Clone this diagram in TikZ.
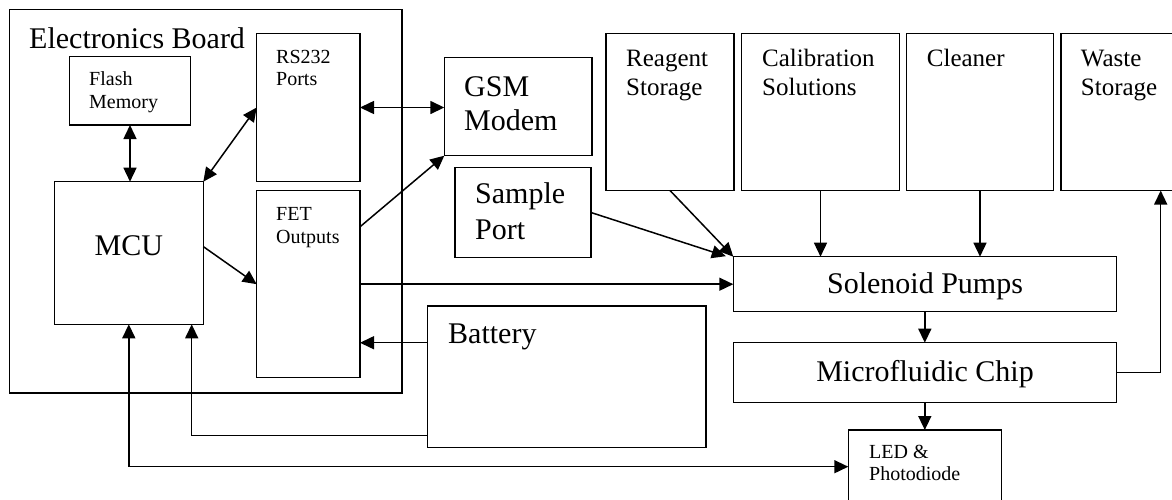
\documentclass[tikz,border=0pt]{standalone}
\usepackage{fontspec}
\setmainfont{Liberation Serif}
\usetikzlibrary{arrows.meta,calc}
\begin{document}
\begin{tikzpicture}[x=1pt,y=-1pt,
 box/.style={draw, line width=1.5pt, inner sep=0pt, outer sep=0pt, rectangle},
 big/.style={font=\fontsize{30}{34}\selectfont, inner sep=0pt},
 mid/.style={font=\fontsize{25}{29}\selectfont, inner sep=0pt},
 sml/.style={font=\fontsize{20}{23}\selectfont, inner sep=0pt},
 lbl/.style={anchor=base west},
 conn/.style={line width=1.5pt},
 arr/.style={conn, -{Triangle[length=14pt,width=13pt]}},
 darr/.style={conn, {Triangle[length=14pt,width=13pt]}-{Triangle[length=14pt,width=13pt]}},
]
\useasboundingbox (0,0) rectangle (1172,499);
\clip (0,0) rectangle (1172,499);

% boxes
\node[box, minimum width=392.5pt, minimum height=383.5pt] (board) at (205.75,201.25) {};
\node[box, minimum width=121.4pt, minimum height=68.3pt] (flash) at (130,90.85) {};
\node[box, minimum width=103.3pt, minimum height=148.4pt] (rs) at (308.35,107.5) {};
\node[box, minimum width=103.3pt, minimum height=187pt] (fet) at (308.35,284.2) {};
\node[box, minimum width=149pt, minimum height=142.6pt] (mcu) at (128.8,253) {};
\node[box, minimum width=147.7pt, minimum height=98pt] (gsm) at (518.15,106.7) {};
\node[box, minimum width=136pt, minimum height=90.4pt] (sample) at (523,212.5) {};
\node[box, minimum width=278.3pt, minimum height=141.3pt] (bat) at (566.85,376.65) {};
\node[box, minimum width=128pt, minimum height=157.2pt] (reag) at (670,111.9) {};
\node[box, minimum width=157.6pt, minimum height=157.2pt] (calib) at (820.5,111.9) {};
\node[box, minimum width=146.6pt, minimum height=157.2pt] (clean) at (980,111.9) {};
\node[box, minimum width=139pt, minimum height=157.2pt] (waste) at (1130.5,111.9) {};
\node[box, minimum width=383pt, minimum height=55pt] (sol) at (924.8,284.2) {};
\node[box, minimum width=383pt, minimum height=59.6pt] (micro) at (924.8,372.5) {};
\node[box, minimum width=153.4pt, minimum height=100pt] (led) at (925,480) {};

% texts
\node[big, lbl] (tBoard) at (29,48) {Electronics Board};
\node[sml, lbl] (tFlash1) at (89,85) {Flash};
\node[sml, lbl] (tFlash2) at (89,108) {Memory};
\node[sml, lbl] (tRs1) at (276,63) {RS232};
\node[sml, lbl] (tRs2) at (276,85) {Ports};
\node[sml, lbl] (tFet1) at (276,220) {FET};
\node[sml, lbl] (tFet2) at (276,243) {Outputs};
\node[big, anchor=base] (tMcu) at (128.8,255) {MCU};
\node[big, lbl] (tGsm1) at (464,96.7) {GSM};
\node[big, lbl] (tGsm2) at (464,130) {Modem};
\node[big, lbl] (tSam1) at (475,203) {Sample};
\node[big, lbl] (tSam2) at (475,239) {Port};
\node[mid, lbl] (tReag1) at (626,66.7) {Reagent};
\node[mid, lbl] (tReag2) at (626,95) {Storage};
\node[mid, lbl] (tCal1) at (762,66.7) {Calibration};
\node[mid, lbl] (tCal2) at (762,95) {Solutions};
\node[mid, lbl] (tCln) at (926.7,66.7) {Cleaner};
\node[mid, lbl] (tWas1) at (1080.7,66.7) {Waste};
\node[mid, lbl] (tWas2) at (1080.7,95) {Storage};
\node[big, lbl] (tBat) at (448,343) {Battery};
\node[big, anchor=base] (tSol) at (925,293.3) {Solenoid Pumps};
\node[big, anchor=base] (tMic) at (925,381.7) {Microfluidic Chip};
\node[sml, lbl] (tLed1) at (869,458) {LED \&};
\node[sml, lbl] (tLed2) at (869,480.7) {Photodiode};

% helper coordinates
\coordinate (mcuR) at ($(mcu.north east)!0.455!(mcu.south east)$);
\coordinate (fetU) at ($(fet.north east)!0.193!(fet.south east)$);
\coordinate (batU) at ($(bat.north west)!0.26!(bat.south west)$);
\coordinate (batL) at ($(bat.north west)!0.918!(bat.south west)$);
\coordinate (ledL) at ($(led.north west)!0.367!(led.south west)$);
\coordinate (solTip) at ($(sol.north west)+(-7.5,-0.5)$);
\coordinate (mcuB2) at (191.7,0);
\coordinate (wasteB) at (1160.7,0);

% connectors
\draw[darr] (flash.south) -- (flash.south |- mcu.north);
\draw[darr] (mcu.north east) -- (rs.west);
\draw[darr] (rs.east) -- (rs.east -| gsm.west);
\draw[arr] (fetU) -- (gsm.south west);
\draw[arr] (mcuR) -- (fet.west);
\draw[arr] (fet.east) -- (fet.east -| sol.west);
\draw[arr] (batU) -- (batU -| fet.east);
\draw[arr] (batL) -- (batL -| mcuB2) -- (mcuB2 |- mcu.south);
\draw[darr] (ledL) -- (ledL -| mcu.south) -- (mcu.south);
\draw[arr] (sample.east) -- (solTip);
\draw[arr] (reag.south) -- (sol.north west);
\draw[arr] (calib.south) -- (calib.south |- sol.north);
\draw[arr] (clean.south) -- (clean.south |- sol.north);
\draw[arr] (sol.south) -- (micro.north);
\draw[arr] (micro.south) -- (micro.south |- led.north);
\draw[arr] (micro.east) -| (wasteB |- waste.south);
\end{tikzpicture}
\end{document}
